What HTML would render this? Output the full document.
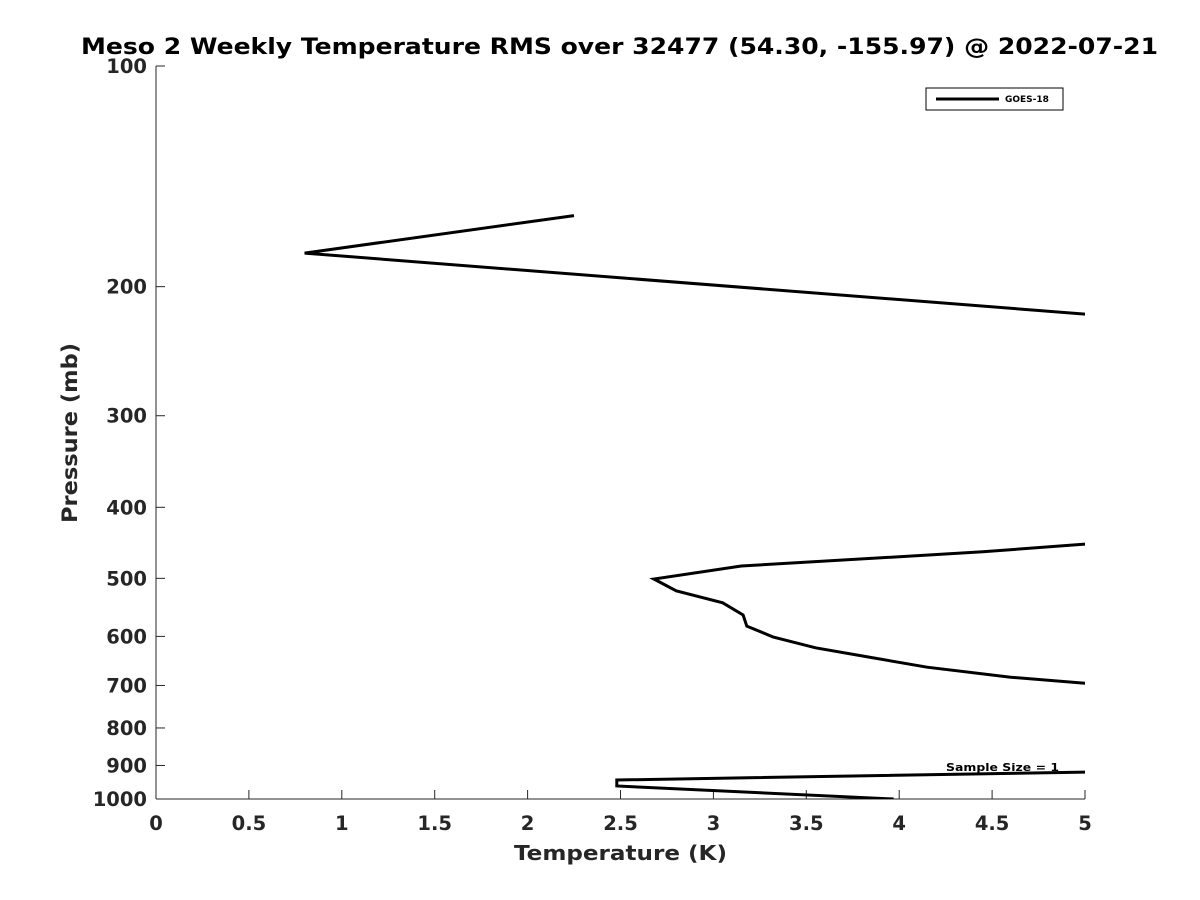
<!DOCTYPE html>
<html><head><meta charset="utf-8"><style>body{margin:0;background:#fff}svg{display:block}text{font-family:"DejaVu Sans","Liberation Sans",sans-serif;font-weight:bold}</style></head>
<body>
<svg id="chart" width="1200" height="900">
<defs><clipPath id="pa"><rect x="156" y="66" width="929" height="733"/></clipPath></defs>
<text x="81" y="54" textLength="1077" lengthAdjust="spacingAndGlyphs" font-size="22" fill="#000">Meso 2 Weekly Temperature RMS over 32477 (54.30, -155.97) @ 2022-07-21</text>
<g id="axes"></g>
<g id="series" clip-path="url(#pa)"></g>
<g>
<rect x="926" y="88" width="137" height="22" fill="#fff" stroke="#000" stroke-width="1"/>
<line x1="936" y1="99" x2="999" y2="99" stroke="#000" stroke-width="3"/>
<text x="1005" y="102" font-size="9" fill="#000">GOES-18</text>
</g>
<text x="946" y="771" textLength="113" lengthAdjust="spacingAndGlyphs" font-size="11" fill="#000">Sample Size = 1</text>
<text x="514" y="860" textLength="213" lengthAdjust="spacingAndGlyphs" font-size="20" fill="#262626">Temperature (K)</text>
<text transform="translate(77,343) rotate(90)" textLength="180" lengthAdjust="spacingAndGlyphs" font-size="21" fill="#262626" style="display:none">Pressure (mb)</text>
<text transform="translate(77,523) rotate(-90)" textLength="180" lengthAdjust="spacingAndGlyphs" font-size="21" fill="#262626">Pressure (mb)</text>
</svg>
<script>
const xTicks=[0,0.5,1,1.5,2,2.5,3,3.5,4,4.5,5];
const xTickLabels=["0","0.5","1","1.5","2","2.5","3","3.5","4","4.5","5"];
const yTicks=[100,200,300,400,500,600,700,800,900,1000];
const temps=[2.25,0.8,8,8,5,4.45,3.15,2.68,2.8,3.05,3.16,3.18,3.32,3.55,3.83,4.15,4.6,5,8,8,5,2.48,2.48,3.97];
const pressures=[160,180,250,430,449,460,481,501,520,540,561,581,601,622,640,661,682,695,750,900,919,942,960,1000];
const X=v=>156+v/5*929;
const Y=p=>66+Math.log10(p/100)*733;
const ns="http://www.w3.org/2000/svg";
const ax=document.getElementById('axes');
function mk(t,a,par){const e=document.createElementNS(ns,t);for(const k in a)e.setAttribute(k,a[k]);par.appendChild(e);return e;}
const xl=mk('line',{x1:156,y1:799,x2:1085,y2:799,stroke:'#262626','stroke-width':1},ax);


const yl=mk('line',{x1:156,y1:66,x2:156,y2:799,stroke:'#262626','stroke-width':1},ax);


xTicks.forEach((v,i)=>{
 mk('line',{x1:X(v),y1:799,x2:X(v),y2:790,stroke:'#262626'},ax);
 const t=mk('text',{x:X(v),y:830,'text-anchor':'middle','font-size':19.5,fill:'#262626'},ax);
 t.textContent=xTickLabels[i];
 
 
});
yTicks.forEach(v=>{
 mk('line',{x1:156,y1:Y(v),x2:165,y2:Y(v),stroke:'#262626'},ax);
 const t=mk('text',{x:147,y:Y(v)+7,'text-anchor':'end','font-size':19.5,fill:'#262626'},ax);
 t.textContent=String(v);
 
 
});
const pts=temps.map((t,i)=>X(t).toFixed(1)+','+Y(pressures[i]).toFixed(1)).join(' ');
const pl=mk('polyline',{points:pts,fill:'none',stroke:'#000','stroke-width':3,'stroke-linejoin':'miter'},document.getElementById('series'));


</script>
</body></html>
